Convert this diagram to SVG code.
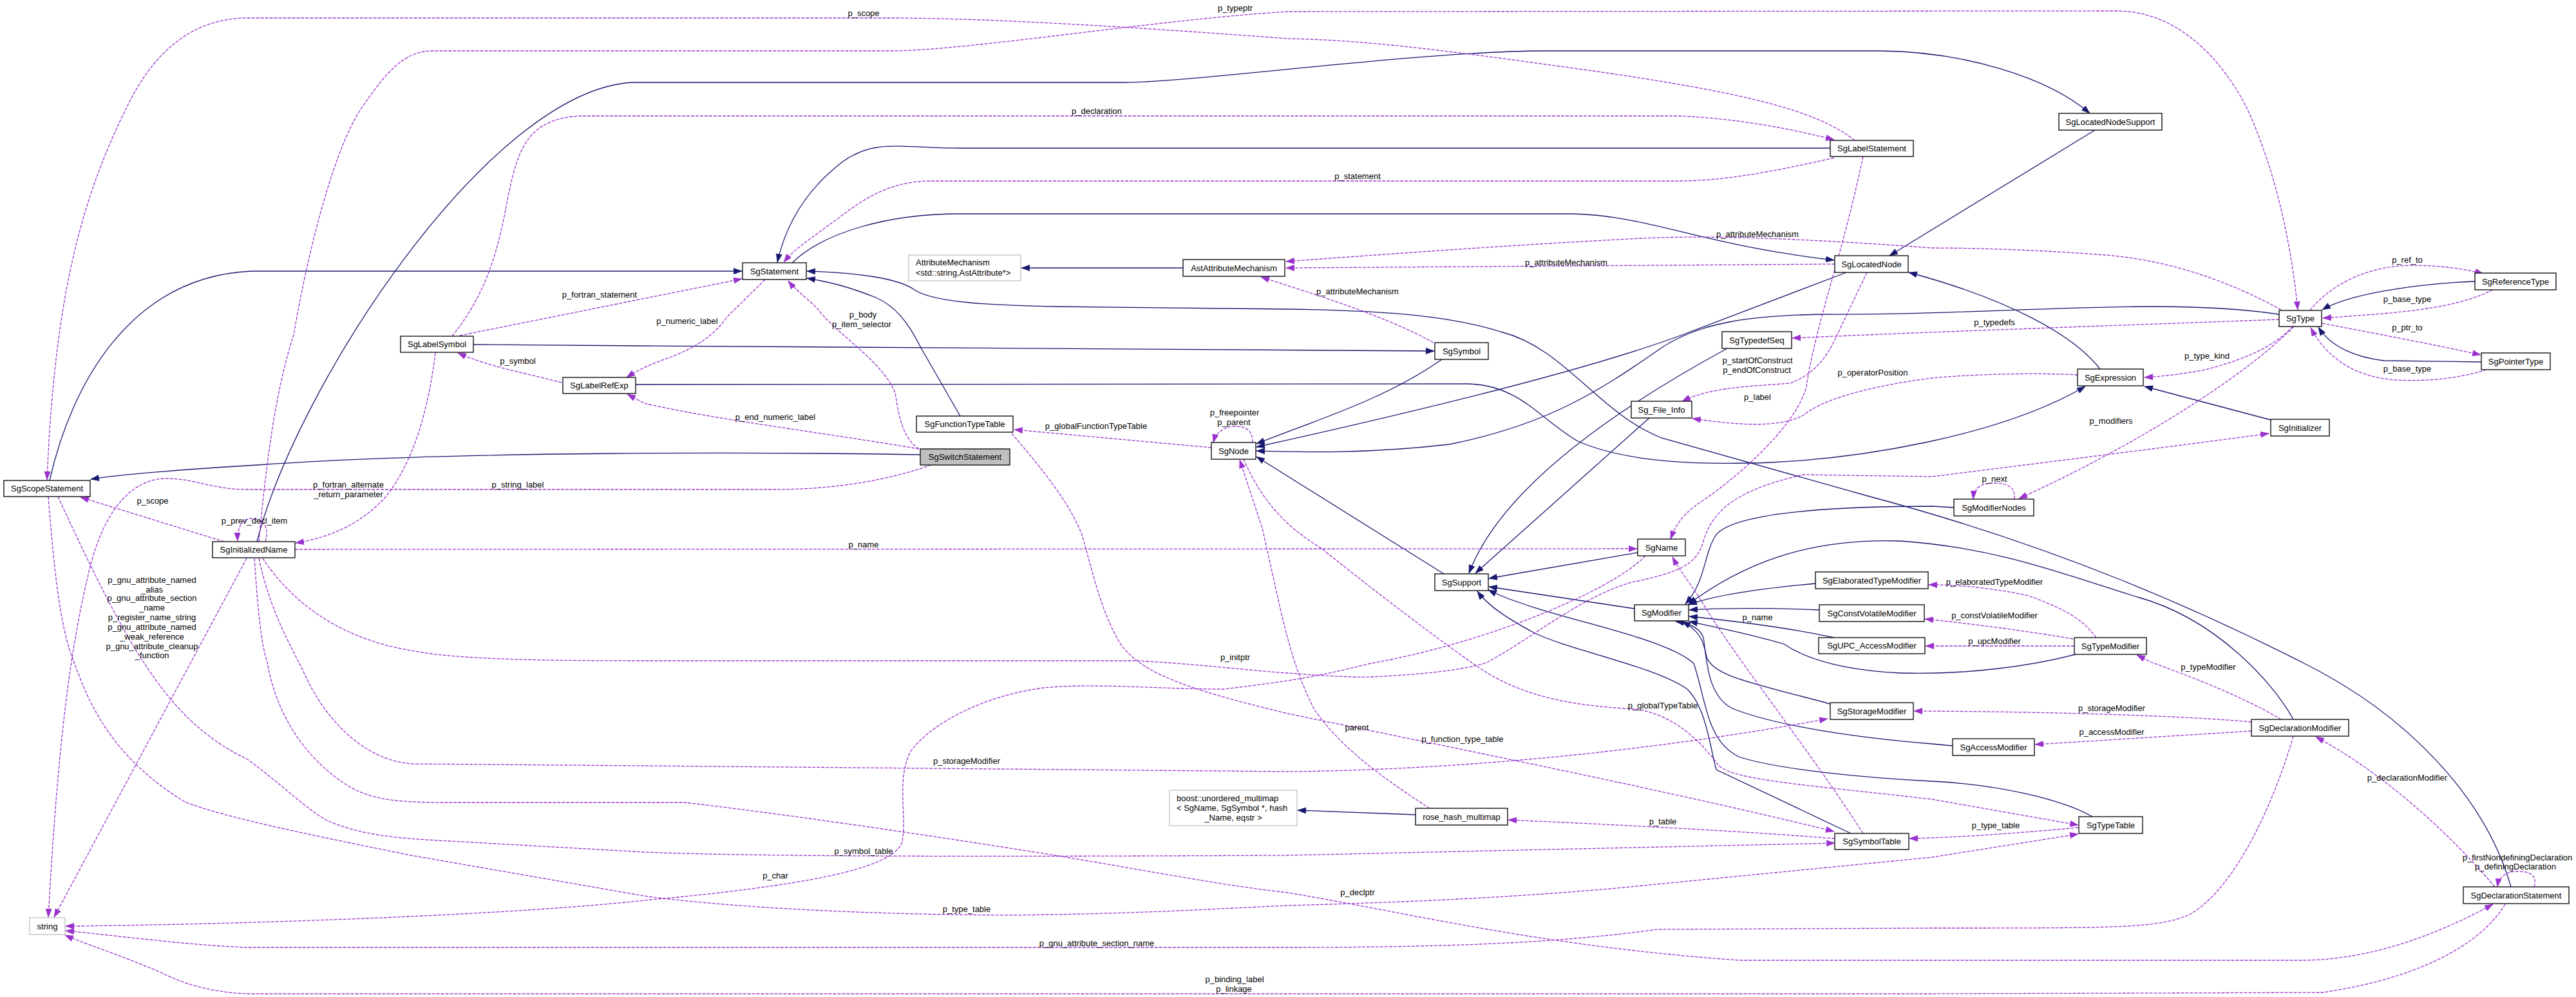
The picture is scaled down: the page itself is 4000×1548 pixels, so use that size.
<svg xmlns="http://www.w3.org/2000/svg" width="4000" height="1548" viewBox="0 0 4000 1548">
<style>
text{font-family:"Liberation Sans",Arial,Helvetica,sans-serif;font-size:13px;fill:#000}
.n rect{fill:#fff;stroke:#000;stroke-width:1.3}
.g rect{fill:#fff;stroke:#bfbfbf;stroke-width:1.3}
.f rect{fill:#bfbfbf;stroke:#000;stroke-width:1.3}
.c{text-anchor:middle}
#edges path{fill:none}
.i{stroke:#191970;stroke-width:1.3;marker-end:url(#an)}
.u{stroke:#9a32cd;stroke-width:1.3;stroke-dasharray:5,2;marker-end:url(#ap)}
</style>
<defs>
<marker id="an" markerUnits="userSpaceOnUse" markerWidth="14" markerHeight="10" refX="13" refY="5" orient="auto"><path d="M0,0 L14,5 L0,10 z" fill="#191970"/></marker>
<marker id="ap" markerUnits="userSpaceOnUse" markerWidth="14" markerHeight="10" refX="13" refY="5" orient="auto"><path d="M0,0 L14,5 L0,10 z" fill="#9a32cd"/></marker>
</defs>
<rect x="0" y="0" width="4000" height="1548" fill="#fff"/>
<g id="edges">
<!-- inheritance -->
<path class="i" d="M399,841 C460,600 760,140 982,128 L1746,128 C1850,128 2200,80 2395,79 L2918,79 C3050,80 3180,120 3245,176"/>
<path class="i" d="M2842,230 L1490,230 C1400,230 1360,215 1310,250 C1250,295 1220,350 1207,407"/>
<path class="i" d="M77,746 C110,600 200,430 390,421 L1152,421"/>
<path class="i" d="M3899,1377 C3860,1240 3740,1110 3574,1028 C3420,950 3200,850 2900,770 L2580,680 C2480,640 2430,540 2330,515 C2250,490 2150,482 2000,480 L1640,476 C1540,474 1450,470 1420,450 C1395,432 1330,423 1253,421"/>
<path class="i" d="M1491,646 L1430,540 C1410,500 1390,475 1360,462 C1320,446 1290,438 1253,432"/>
<path class="i" d="M1429,706 C1200,702 700,700 400,722 C300,728 200,735 141,744"/>
<path class="i" d="M1230,408 C1280,360 1380,332 1491,332 L2440,332 C2560,334 2640,380 2848,404"/>
<path class="i" d="M1837,416 L1586,416"/>
<path class="i" d="M3253,202 L2934,397"/>
<path class="i" d="M3261,573 C3220,520 3120,465 2964,423"/>
<path class="i" d="M3526,652 L3330,600"/>
<path class="i" d="M2867,423 L2612,520 C2450,580 2150,650 1951,694"/>
<path class="i" d="M2239,558 C2150,620 2050,650 1951,689"/>
<path class="i" d="M3539,488 C3350,460 3100,490 2829,488 C2720,490 2640,500 2580,540 C2480,610 2400,660 2250,690 C2120,705 2020,702 1951,700"/>
<path class="i" d="M2242,891 L1951,709"/>
<path class="i" d="M987,597 L2280,596 C2360,598 2390,650 2450,685 C2530,720 2650,722 2750,718 C2880,712 3100,680 3238,600"/>
<path class="i" d="M735,535 L1000,537 L2227,545"/>
<path class="i" d="M2682,541 C2500,640 2330,760 2281,890"/>
<path class="i" d="M2561,649 L2291,890"/>
<path class="i" d="M2543,858 L2312,898"/>
<path class="i" d="M2538,945 L2312,911"/>
<path class="i" d="M2874,1294 L2665,1195 C2655,1160 2650,1100 2620,1070 C2570,1035 2440,1010 2383,983 C2340,960 2310,940 2294,918"/>
<path class="i" d="M3249,1268 C3200,1240 3100,1218 3000,1213 C2900,1208 2760,1195 2700,1175 C2650,1150 2650,1090 2630,1030 C2580,985 2400,960 2311,916"/>
<path class="i" d="M2819,906 C2720,915 2660,925 2622,939"/>
<path class="i" d="M2825,947 C2750,944 2680,944 2623,947"/>
<path class="i" d="M2848,990 C2780,975 2700,965 2623,957"/>
<path class="i" d="M3034,788 L3000,786 C2900,786 2700,790 2665,830 C2645,860 2650,900 2617,938"/>
<path class="i" d="M3561,1117 C3530,1060 3440,960 3319,927 C3200,890 3100,850 2950,840 C2800,835 2700,880 2622,938"/>
<path class="i" d="M3223,1016 C3150,1035 3050,1048 2950,1045 C2850,1040 2800,1020 2770,1000 C2720,985 2670,975 2623,965"/>
<path class="i" d="M2842,1093 C2720,1060 2660,1050 2650,1020 C2645,995 2640,980 2612,965"/>
<path class="i" d="M3032,1158 L3000,1155 C2890,1146 2760,1128 2690,1100 C2650,1080 2650,1020 2645,990 C2640,975 2625,968 2602,965"/>
<path class="i" d="M2198,1265 L2015,1258"/>
<path class="i" d="M3853,562 L3702,560 C3660,555 3620,540 3600,508"/>
<path class="i" d="M3843,437 C3760,440 3650,455 3606,481"/>
<!-- usage -->
<path class="u" d="M2880,218 C2820,170 2700,140 2400,100 C2200,72 2100,62 2000,60 C1800,45 1550,28 1383,28 L383,28 C300,28 240,80 200,160 C130,300 85,450 73,745"/>
<path class="u" d="M402,841 C415,700 430,600 456,520 C480,380 520,230 560,170 C600,110 630,79 670,79 L1383,79 C1500,79 1800,30 2000,18 L3287,17 C3380,17 3450,90 3490,170 C3540,280 3560,400 3568,481"/>
<path class="u" d="M702,522 C760,450 775,380 790,300 C805,230 820,185 900,180 L2606,180 C2700,184 2780,200 2848,217"/>
<path class="u" d="M2848,245 C2760,265 2680,281 2606,281 L1446,281 C1380,281 1340,310 1300,340 C1260,370 1235,385 1217,407"/>
<path class="u" d="M714,521 L1152,433"/>
<path class="u" d="M1188,434 L1128,493 C1110,520 1080,540 1040,555 C1010,565 990,575 973,586"/>
<path class="u" d="M1427,697 C1400,680 1395,640 1390,610 C1370,560 1300,520 1270,480 C1250,460 1235,450 1224,436"/>
<path class="u" d="M1427,697 C1300,675 1100,650 1000,626 L974,612"/>
<path class="u" d="M872,594 C820,580 760,570 711,548"/>
<path class="u" d="M1446,722 C1380,745 1300,760 1200,760 L383,760 C330,760 300,742 255,743 C200,745 160,800 140,880 C110,1000 90,1150 75,1424"/>
<path class="u" d="M676,548 C665,640 640,720 600,770 C560,815 510,835 459,843"/>
<path class="u" d="M348,841 L125,772"/>
<path class="u" d="M412,841 C420,815 405,805 392,805 C378,805 368,815 369,840"/>
<path class="u" d="M458,853 L2542,852"/>
<path class="u" d="M383,867 L84,1424"/>
<path class="u" d="M395,867 C400,940 405,1000 415,1028 C425,1090 460,1170 542,1221 C580,1243 620,1246 700,1246 L1064,1246 C1200,1262 1400,1290 1638,1328 C1800,1355 1900,1375 2000,1386 C2200,1420 2400,1470 2702,1491 L3574,1491 C3650,1491 3750,1470 3871,1404"/>
<path class="u" d="M402,867 C420,950 450,1000 470,1040 C500,1110 560,1180 640,1186 L1000,1189 L2000,1198 C2300,1195 2600,1160 2838,1116"/>
<path class="u" d="M408,867 C450,930 520,990 638,1010 C700,1022 800,1026 1000,1026 L1765,1026 C1850,1030 1950,1042 2000,1045 C2050,1049 2100,1052 2128,1051 C2200,1048 2280,1040 2310,1028 C2380,990 2450,930 2530,905 C2600,890 2635,880 2645,840 C2660,790 2700,760 2800,737 L3000,740 C3200,715 3400,690 3523,673"/>
<path class="u" d="M90,771 C140,880 190,980 223,1028 C250,1070 300,1140 383,1178 C440,1220 480,1260 510,1275 C560,1295 600,1301 700,1306 L1000,1323 C1200,1331 1600,1330 2000,1328 L2849,1309"/>
<path class="u" d="M75,771 C85,900 95,980 115,1028 C140,1100 180,1180 287,1245 C350,1270 500,1300 638,1328 L1000,1391 C1100,1405 1300,1420 1574,1421 C1800,1418 1900,1410 2000,1406 C2200,1400 2319,1395 2500,1380 L3000,1331 L3227,1295"/>
<path class="u" d="M2555,863 C2500,920 2300,1000 2128,1030 C2050,1050 2000,1058 1900,1070 C1800,1070 1700,1060 1620,1068 C1530,1080 1450,1120 1415,1165 C1390,1210 1410,1270 1400,1310 C1380,1350 1250,1375 1000,1398 C800,1420 400,1435 102,1438"/>
<path class="u" d="M2849,410 L1997,416"/>
<path class="u" d="M3542,481 C3450,430 3350,400 3255,395 C3150,387 3050,385 3000,385 C2800,370 2650,365 2550,370 C2350,380 2150,395 1997,406"/>
<path class="u" d="M2226,532 C2150,490 2050,460 1958,430"/>
<path class="u" d="M3539,496 C3300,505 3000,515 2783,525"/>
<path class="u" d="M3587,482 C3620,440 3680,412 3746,412 C3790,412 3830,418 3856,425"/>
<path class="u" d="M3871,450 C3830,470 3780,480 3700,487 L3607,494"/>
<path class="u" d="M3606,502 C3700,520 3780,535 3852,551"/>
<path class="u" d="M3861,574 C3810,590 3760,592 3720,590 C3650,585 3610,550 3588,509"/>
<path class="u" d="M3560,507 C3530,540 3480,560 3420,575 C3380,582 3350,585 3330,586"/>
<path class="u" d="M3562,507 C3480,590 3300,700 3135,774"/>
<path class="u" d="M3128,775 C3130,755 3115,750 3096,750 C3075,750 3065,758 3064,775"/>
<path class="u" d="M3226,582 C3150,578 3050,582 3000,587 C2900,600 2830,620 2800,645 C2760,665 2700,660 2628,650"/>
<path class="u" d="M2899,423 L2855,515 C2840,550 2820,580 2780,595 C2720,600 2660,600 2612,623"/>
<path class="u" d="M2893,243 C2860,400 2820,500 2805,600 C2790,660 2700,740 2640,780 C2610,800 2600,820 2594,837"/>
<path class="u" d="M2893,1294 C2800,1150 2700,1030 2640,930 C2620,900 2605,880 2597,865"/>
<path class="u" d="M1945,687 C1945,668 1935,662 1918,662 C1900,662 1888,672 1884,687"/>
<path class="u" d="M1881,695 L1575,667"/>
<path class="u" d="M1571,673 C1620,730 1660,780 1680,830 C1700,900 1710,950 1740,1000 C1770,1040 1820,1065 2000,1108 C2300,1170 2600,1230 2848,1291"/>
<path class="u" d="M2220,1255 C2150,1210 2080,1160 2040,1100 C2000,1020 1990,950 1960,820 L1925,714"/>
<path class="u" d="M1931,713 C1960,780 2000,820 2050,850 C2150,930 2230,990 2287,1030 C2350,1075 2420,1095 2540,1101 C2600,1110 2640,1150 2670,1190 C2700,1212 2800,1218 3000,1241 L3227,1281"/>
<path class="u" d="M2849,1302 C2700,1290 2500,1280 2342,1273"/>
<path class="u" d="M3227,1285 C3150,1292 3050,1300 2965,1302"/>
<path class="u" d="M3255,990 C3230,955 3190,940 3150,925 C3080,910 3030,908 2995,908"/>
<path class="u" d="M3219,992 C3150,980 3050,967 2989,961"/>
<path class="u" d="M3221,1003 L2990,1003"/>
<path class="u" d="M3542,1117 C3480,1080 3400,1050 3340,1028 L3318,1017"/>
<path class="u" d="M3496,1121 C3400,1112 3200,1105 2972,1104"/>
<path class="u" d="M3496,1135 L3160,1156"/>
<path class="u" d="M3874,1377 C3800,1290 3700,1200 3596,1144"/>
<path class="u" d="M3935,1377 C3940,1360 3930,1353 3910,1353 C3890,1353 3880,1362 3878,1377"/>
<path class="u" d="M3561,1143 C3530,1250 3470,1380 3400,1420 C3350,1441 3300,1441 3000,1441 L2574,1443 C2450,1460 2300,1471 2000,1471 L383,1471 C300,1468 200,1455 102,1445"/>
<path class="u" d="M3890,1404 C3850,1470 3750,1520 3606,1541 L3000,1543 L383,1543 C320,1540 280,1525 250,1510 C180,1480 130,1465 101,1452"/>
</g>
<g id="edge-labels" class="c">
<text x="1341" y="24.5">p_scope</text>
<text x="1918" y="16.5">p_typeptr</text>
<text x="1703" y="176.5">p_declaration</text>
<text x="2108" y="277.5">p_statement</text>
<text x="2729" y="367.5">p_attributeMechanism</text>
<text x="2432" y="411.5">p_attributeMechanism</text>
<text x="2108" y="456.5">p_attributeMechanism</text>
<text x="931" y="461.5">p_fortran_statement</text>
<text x="1067" y="503">p_numeric_label</text>
<text x="1340" y="492.5">p_body</text>
<text x="1338" y="507.5">p_item_selector</text>
<text x="3738" y="407.5">p_ref_to</text>
<text x="3738" y="468.5">p_base_type</text>
<text x="3738" y="512.5">p_ptr_to</text>
<text x="3097" y="504.5">p_typedefs</text>
<text x="3427" y="556.5">p_type_kind</text>
<text x="3738" y="576.5">p_base_type</text>
<text x="3278" y="657.5">p_modifiers</text>
<text x="3097" y="747.5">p_next</text>
<text x="3097" y="907.5">p_elaboratedTypeModifier</text>
<text x="3097" y="959.5">p_constVolatileModifier</text>
<text x="3097" y="999.5">p_upcModifier</text>
<text x="804" y="564.5">p_symbol</text>
<text x="541" y="756.5">p_fortran_alternate</text>
<text x="541" y="771.5">_return_parameter</text>
<text x="804" y="756.5">p_string_label</text>
<text x="237" y="781.5">p_scope</text>
<text x="395" y="812.5">p_prev_decl_item</text>
<text x="236" y="904.5">p_gnu_attribute_named</text>
<text x="236" y="919.5">_alias</text>
<text x="236" y="932.5">p_gnu_attribute_section</text>
<text x="236" y="947.5">_name</text>
<text x="236" y="962.5">p_register_name_string</text>
<text x="236" y="977.5">p_gnu_attribute_named</text>
<text x="236" y="992.5">_weak_reference</text>
<text x="236" y="1007.5">p_gnu_attribute_cleanup</text>
<text x="236" y="1021.5">_function</text>
<text x="1204" y="651.5">p_end_numeric_label</text>
<text x="1702" y="665.5">p_globalFunctionTypeTable</text>
<text x="1917" y="644.5">p_freepointer</text>
<text x="1916" y="659.5">p_parent</text>
<text x="1341" y="849.5">p_name</text>
<text x="1918" y="1024.5">p_initptr</text>
<text x="2729" y="563.5">p_startOfConstruct</text>
<text x="2728" y="578.5">p_endOfConstruct</text>
<text x="2908" y="582.5">p_operatorPosition</text>
<text x="2729" y="620.5">p_label</text>
<text x="2729" y="962.5">p_name</text>
<text x="1501" y="1185.5">p_storageModifier</text>
<text x="1341" y="1325.5">p_symbol_table</text>
<text x="1204" y="1363.5">p_char</text>
<text x="1501" y="1415.5">p_type_table</text>
<text x="1703" y="1468.5">p_gnu_attribute_section_name</text>
<text x="1917" y="1524.5">p_binding_label</text>
<text x="1916" y="1539.5">p_linkage</text>
<text x="2107" y="1133.5">parent</text>
<text x="2271" y="1151.5">p_function_type_table</text>
<text x="2582" y="1099.5">p_globalTypeTable</text>
<text x="2582" y="1279.5">p_table</text>
<text x="2108" y="1389.5">p_declptr</text>
<text x="3429" y="1039.5">p_typeModifier</text>
<text x="3279" y="1103.5">p_storageModifier</text>
<text x="3279" y="1140.5">p_accessModifier</text>
<text x="3738" y="1211.5">p_declarationModifier</text>
<text x="3099" y="1285.5">p_type_table</text>
<text x="3909" y="1335.5">p_firstNondefiningDeclaration</text>
<text x="3906" y="1349.5">p_definingDeclaration</text>
</g>
<g id="SgStatement" class="n"><rect x="1153" y="408" width="99" height="26"/><text class="c" x="1202.5" y="425.5">SgStatement</text></g>
<g id="AttributeMechanism" class="g"><rect x="1411" y="396" width="174" height="40"/><text x="1422" y="411.5">AttributeMechanism</text><text x="1422" y="427.5">&lt;std::string,AstAttribute*&gt;</text></g>
<g id="AstAttributeMechanism" class="n"><rect x="1837" y="403" width="158" height="26"/><text class="c" x="1916" y="420.5">AstAttributeMechanism</text></g>
<g id="SgLabelStatement" class="n"><rect x="2842" y="218" width="129" height="25"/><text class="c" x="2906.5" y="235">SgLabelStatement</text></g>
<g id="SgLocatedNode" class="n"><rect x="2849" y="397" width="114" height="26"/><text class="c" x="2906" y="414.5">SgLocatedNode</text></g>
<g id="SgLocatedNodeSupport" class="n"><rect x="3197" y="176" width="160" height="26"/><text class="c" x="3277" y="193.5">SgLocatedNodeSupport</text></g>
<g id="SgType" class="n"><rect x="3539" y="482" width="66" height="25"/><text class="c" x="3572" y="499">SgType</text></g>
<g id="SgReferenceType" class="n"><rect x="3843" y="424" width="126" height="26"/><text class="c" x="3906" y="441.5">SgReferenceType</text></g>
<g id="SgPointerType" class="n"><rect x="3853" y="548" width="107" height="26"/><text class="c" x="3906.5" y="565.5">SgPointerType</text></g>
<g id="SgExpression" class="n"><rect x="3226" y="573" width="102" height="26"/><text class="c" x="3277" y="590.5">SgExpression</text></g>
<g id="SgInitializer" class="n"><rect x="3526" y="651" width="91" height="26"/><text class="c" x="3571.5" y="668.5">SgInitializer</text></g>
<g id="SgModifierNodes" class="n"><rect x="3034" y="775" width="124" height="26"/><text class="c" x="3096" y="792.5">SgModifierNodes</text></g>
<g id="SgTypeModifier" class="n"><rect x="3221" y="990" width="112" height="26"/><text class="c" x="3277" y="1007.5">SgTypeModifier</text></g>
<g id="SgLabelSymbol" class="n"><rect x="622" y="522" width="113" height="25"/><text class="c" x="678.5" y="539">SgLabelSymbol</text></g>
<g id="SgLabelRefExp" class="n"><rect x="874" y="586" width="113" height="25"/><text class="c" x="930.5" y="603">SgLabelRefExp</text></g>
<g id="SgScopeStatement" class="n"><rect x="6" y="746" width="134" height="25"/><text class="c" x="73" y="763">SgScopeStatement</text></g>
<g id="SgInitializedName" class="n"><rect x="330" y="841" width="128" height="25"/><text class="c" x="394" y="858">SgInitializedName</text></g>
<g id="SgFunctionTypeTable" class="n"><rect x="1423" y="646" width="150" height="25"/><text class="c" x="1498" y="663">SgFunctionTypeTable</text></g>
<g id="SgSwitchStatement" class="f"><rect x="1429" y="697" width="139" height="25"/><text class="c" x="1498.5" y="714">SgSwitchStatement</text></g>
<g id="SgNode" class="n"><rect x="1881" y="687" width="69" height="26"/><text class="c" x="1915.5" y="704.5">SgNode</text></g>
<g id="SgSymbol" class="n"><rect x="2228" y="532" width="83" height="26"/><text class="c" x="2269.5" y="549.5">SgSymbol</text></g>
<g id="SgTypedefSeq" class="n"><rect x="2674" y="515" width="108" height="26"/><text class="c" x="2728" y="532.5">SgTypedefSeq</text></g>
<g id="Sg_File_Info" class="n"><rect x="2533" y="623" width="94" height="26"/><text class="c" x="2580" y="640.5">Sg_File_Info</text></g>
<g id="SgName" class="n"><rect x="2543" y="837" width="74" height="26"/><text class="c" x="2580" y="854.5">SgName</text></g>
<g id="SgSupport" class="n"><rect x="2228" y="891" width="83" height="26"/><text class="c" x="2269.5" y="908.5">SgSupport</text></g>
<g id="SgModifier" class="n"><rect x="2538" y="939" width="84" height="25"/><text class="c" x="2580" y="956">SgModifier</text></g>
<g id="SgElaboratedTypeModifier" class="n"><rect x="2819" y="888" width="175" height="26"/><text class="c" x="2906.5" y="905.5">SgElaboratedTypeModifier</text></g>
<g id="SgConstVolatileModifier" class="n"><rect x="2825" y="939" width="163" height="26"/><text class="c" x="2906.5" y="956.5">SgConstVolatileModifier</text></g>
<g id="SgUPC_AccessModifier" class="n"><rect x="2824" y="990" width="165" height="25"/><text class="c" x="2906.5" y="1007">SgUPC_AccessModifier</text></g>
<g id="string" class="g"><rect x="46" y="1425" width="55" height="26"/><text class="c" x="73.5" y="1442.5">string</text></g>
<g id="boost_unordered_multimap" class="g"><rect x="1816" y="1227" width="198" height="55"/><text x="1827" y="1243.5">boost::unordered_multimap</text><text x="1827" y="1258.5">&lt; SgName, SgSymbol *, hash</text><text class="c" x="1915" y="1273.5">_Name, eqstr &gt;</text></g>
<g id="rose_hash_multimap" class="n"><rect x="2198" y="1255" width="143" height="26"/><text class="c" x="2269.5" y="1272.5">rose_hash_multimap</text></g>
<g id="SgStorageModifier" class="n"><rect x="2842" y="1091" width="129" height="26"/><text class="c" x="2906.5" y="1108.5">SgStorageModifier</text></g>
<g id="SgSymbolTable" class="n"><rect x="2849" y="1294" width="115" height="25"/><text class="c" x="2906.5" y="1311">SgSymbolTable</text></g>
<g id="SgDeclarationModifier" class="n"><rect x="3496" y="1117" width="151" height="26"/><text class="c" x="3571.5" y="1134.5">SgDeclarationModifier</text></g>
<g id="SgAccessModifier" class="n"><rect x="3032" y="1147" width="127" height="26"/><text class="c" x="3095.5" y="1164.5">SgAccessModifier</text></g>
<g id="SgTypeTable" class="n"><rect x="3228" y="1268" width="99" height="26"/><text class="c" x="3277.5" y="1285.5">SgTypeTable</text></g>
<g id="SgDeclarationStatement" class="n"><rect x="3825" y="1377" width="164" height="26"/><text class="c" x="3907" y="1394.5">SgDeclarationStatement</text></g>
</svg>
